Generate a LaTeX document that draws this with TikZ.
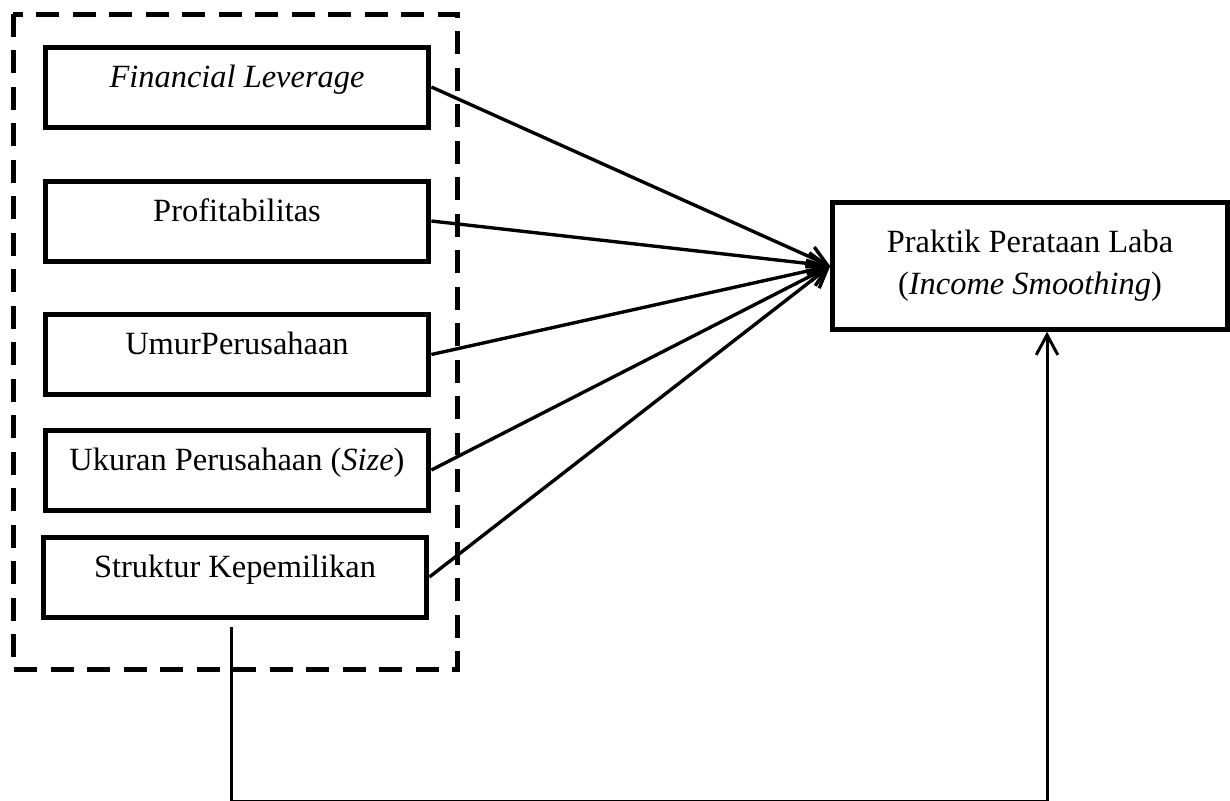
\documentclass[tikz,border=0pt]{standalone}
\usepackage{fontspec}
\setmainfont{Liberation Serif}
\usetikzlibrary{arrows.meta}

\begin{document}
\begin{tikzpicture}[
  x=0.37pt, y=-0.37pt,
  var/.style={rectangle, draw, line width=1.85pt, minimum width=142pt,
              minimum height=29.6pt, inner sep=0pt,
              text height=1.6ex, text depth=1.6ex,
              font=\fontsize{12}{15.5}\selectfont},
  dep/.style={rectangle, draw, line width=1.85pt, minimum width=146pt,
              minimum height=46.8pt, inner sep=0pt, align=center,
              font=\fontsize{12}{15.5}\selectfont},
  frame/.style={line width=1.85pt, dash pattern=on 8.5pt off 5pt},
  arr/.style={-{Straight Barb[length=7pt,width=8pt]}, line width=1.25pt},
  link/.style={-{Straight Barb[length=7.4pt,width=8pt]}, line width=1.1pt}
]
\useasboundingbox (0,0) rectangle (1230,800);

% independent variables
\draw[frame] (13,14) rectangle (457,669.5);
\node[var] (lev)    at (237,87)    {\textit{Financial Leverage}};
\node[var] (profit) at (237,221)   {Profitabilitas};
\node[var] (umur)   at (237,354.5) {UmurPerusahaan};
\node[var] (size)   at (237,470)   {Ukuran Perusahaan (\textit{Size})};
\node[var] (struk)  at (235,577)   {Struktur Kepemilikan};

% dependent variable
\node[dep] (laba) at (1030,266) {Praktik Perataan Laba\\(\textit{Income Smoothing})};

\draw[arr] (lev.east)    -- (laba.west);
\draw[arr] (profit.east) -- (laba.west);
\draw[arr] (umur.east)   -- (laba.west);
\draw[arr] (size.east)   -- (laba.west);
\draw[arr] (struk.east)  -- (laba.west);

% simultaneous path
\coordinate (drop) at (231.5,627);
\coordinate (rise) at (1047,801);
\draw[link] (drop) |- (rise) -- (rise |- laba.south);
\end{tikzpicture}
\end{document}
